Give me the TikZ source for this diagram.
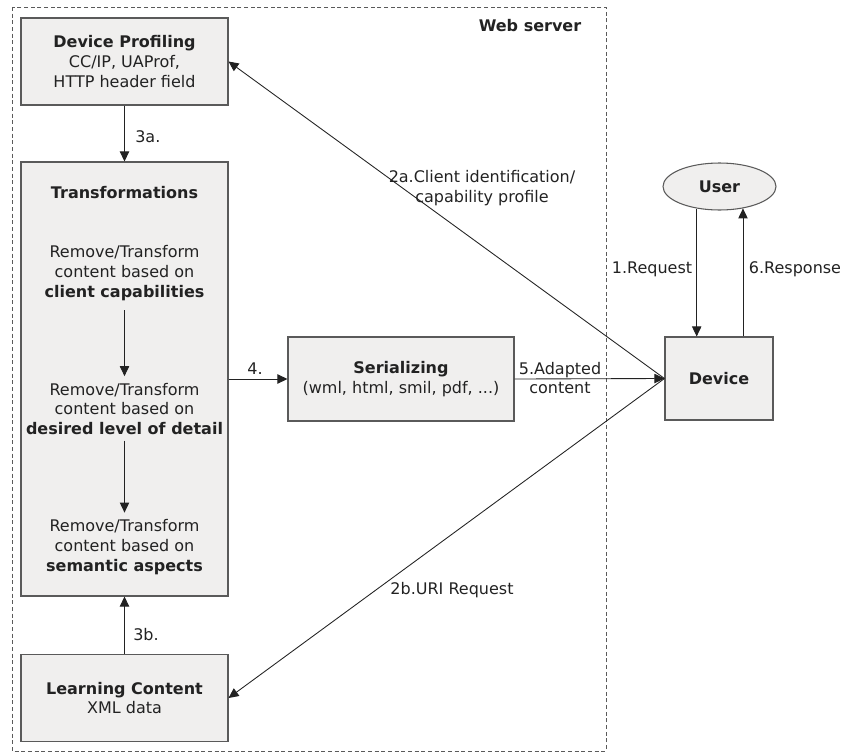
\documentclass[tikz,border=0pt]{standalone}
\usepackage{fontspec}
\setmainfont{DejaVu Sans}
\usetikzlibrary{arrows.meta,shapes.geometric}
\definecolor{boxfill}{HTML}{F0EFEE}
\definecolor{boxline}{HTML}{5A5A5A}
\definecolor{ink}{HTML}{222222}
\begin{document}
\begin{tikzpicture}[x=0.75pt,y=-0.75pt,
  every node/.style={font=\fontsize{12}{14.8}\selectfont, text=ink},
  sz/.style 2 args={minimum width=#1*0.75pt, minimum height=#2*0.75pt},
  box/.style={draw=boxline, fill=boxfill, line width=0.8pt, inner sep=0pt, align=center},
  arr/.style={draw=ink, line width=0.65pt, -{Triangle[length=7.5pt,width=7pt]}},
  lbl/.style={inner sep=0pt, align=center},
]
\useasboundingbox (0,0) rectangle (842,753);
% web server frame
\draw[boxline, line width=0.7pt, dash pattern=on 3pt off 2pt] (12,7) rectangle (606,751);
\node[lbl, font=\fontsize{12}{14.8}\selectfont\bfseries] (ws) at (530,26) {Web server};

% boxes
\node[box, sz={207}{87}] (dp) at (124.5,61.5) {\textbf{Device Profiling}\\CC/IP, UAProf,\\HTTP header field};
\node[box, sz={207}{434}] (trans) at (124.5,379) {};
\node[lbl] (ttitle) at (124.5,193) {\textbf{Transformations}};
\node[lbl] (p1) at (124.5,273) {Remove/Transform\\content based on\\\textbf{client capabilities}};
\node[lbl] (p2) at (124.5,409) {Remove/Transform\\content based on\\\textbf{desired level of detail}};
\node[lbl] (p3) at (124.5,547) {Remove/Transform\\content based on\\\textbf{semantic aspects}};
\node[box, sz={207}{87}] (lc) at (124.5,698) {\textbf{Learning Content}\\XML data};
\node[box, sz={226}{84}] (ser) at (401,379) {\textbf{Serializing}\\(wml, html, smil, pdf, ...)};
\node[box, sz={108}{83}] (dev) at (719,378.5) {\textbf{Device}};
\node[box, ellipse, sz={113}{47}] (user) at (719.5,186.5) {\textbf{User}};

% connectors
\draw[arr] (dp) -- (trans);
\draw[arr] (lc) -- (trans);
\draw[arr, shorten <=7pt, shorten >=5pt] (p1) -- (p2);
\draw[arr, shorten <=4pt, shorten >=5pt] (p2) -- (p3);
\draw[arr] (trans.east) -- (ser.west);
\draw[arr] (ser.east) -- (dev.west);
\draw[arr] (dev.west) -- (dp.east);
\draw[arr] (dev.west) -- (lc.east);
\draw[arr] (user.224) -- (user.224 |- dev.north);
\draw[arr] (user.317 |- dev.north) -- (user.317);

% labels
\node[lbl, anchor=west] (l3a) at (135,137) {3a.};
\node[lbl, anchor=west] (l3b) at (133,635) {3b.};
\node[lbl] (l4) at (255,369) {4.};
\node[lbl] (l5) at (560,378) {5.Adapted\\content};
\node[lbl] (l2a) at (482,188) {2a.Client identification/\\capability profile};
\node[lbl] (l2b) at (452,590) {2b.URI Request};
\node[lbl] (l1) at (652,269) {1.Request};
\node[lbl] (l6) at (795,269) {6.Response};
\end{tikzpicture}
\end{document}
